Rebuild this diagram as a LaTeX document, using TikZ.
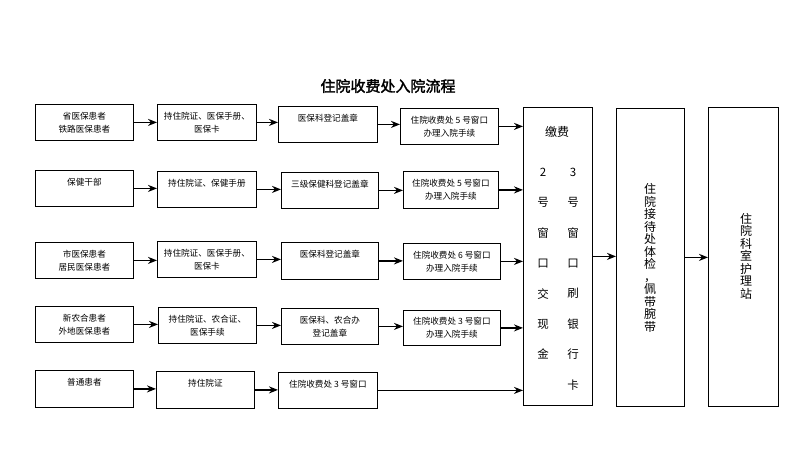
\documentclass[tikz,border=0pt]{standalone}
\usepackage{fontspec}
\setmainfont{Noto Sans CJK SC}[AutoFakeBold=2]
\usetikzlibrary{arrows.meta}
\begin{document}
\begin{tikzpicture}[x=1pt,y=-1pt,
  box/.style={draw, line width=0.8pt, inner sep=0pt, anchor=north west, align=center,
    font=\fontsize{8.6}{13.3}\selectfont},
  bigbox/.style={draw, line width=0.8pt, inner sep=0pt, anchor=north west},
  arr/.style={-{Stealth[length=9pt,width=7pt]}, line width=1.5pt},
  bigch/.style={inner sep=0pt, font=\fontsize{11.5}{12}\selectfont},
  vtext/.style={inner sep=0pt, align=center, font=\fontsize{12}{12.5}\selectfont}]
\useasboundingbox (0,0) rectangle (791,458);
\node[inner sep=0pt, font=\fontsize{15}{16}\selectfont\bfseries] (title) at (388,86) {住院收费处入院流程};
% row 1
\node[box, minimum width=98pt, minimum height=36pt] (r1a) at (35,104) {省医保患者\\铁路医保患者};
\node[box, minimum width=99pt, minimum height=36pt] (r1b) at (157,104) {持住院证、医保手册、\\医保卡};
\node[box, minimum width=99pt, minimum height=36pt] (r1c) at (278,106) {医保科登记盖章\\\phantom{保}};
\node[box, minimum width=98pt, minimum height=36pt] (r1d) at (400,108) {住院收费处 5 号窗口\\办理入院手续};
% row 2
\node[box, minimum width=98pt, minimum height=36pt] (r2a) at (35,170) {保健干部\\\phantom{保}};
\node[box, minimum width=99pt, minimum height=36pt] (r2b) at (157,171) {持住院证、保健手册\\\phantom{保}};
\node[box, minimum width=97pt, minimum height=36pt] (r2c) at (281,172) {三级保健科登记盖章\\\phantom{保}};
\node[box, minimum width=95pt, minimum height=37pt] (r2d) at (403,171) {住院收费处 5 号窗口\\办理入院手续};
% row 3
\node[box, minimum width=98pt, minimum height=36pt] (r3a) at (35,242) {市医保患者\\居民医保患者};
\node[box, minimum width=99pt, minimum height=36pt] (r3b) at (157,241) {持住院证、医保手册、\\医保卡};
\node[box, minimum width=97pt, minimum height=37pt] (r3c) at (281,242) {医保科登记盖章\\\phantom{保}};
\node[box, minimum width=97pt, minimum height=36pt] (r3d) at (403,243) {住院收费处 6 号窗口\\办理入院手续};
% row 4
\node[box, minimum width=98pt, minimum height=36pt] (r4a) at (35,306) {新农合患者\\外地医保患者};
\node[box, minimum width=98pt, minimum height=36pt] (r4b) at (158,307) {持住院证、农合证、\\医保手续};
\node[box, minimum width=97pt, minimum height=36pt] (r4c) at (281,308) {医保科、农合办\\登记盖章};
\node[box, minimum width=97pt, minimum height=35pt] (r4d) at (403,310) {住院收费处 3 号窗口\\办理入院手续};
% row 5
\node[box, minimum width=98pt, minimum height=37pt] (r5a) at (35,370) {普通患者\\\phantom{保}};
\node[box, minimum width=98pt, minimum height=37pt] (r5b) at (156,371) {持住院证\\\phantom{保}};
\node[box, minimum width=99pt, minimum height=36pt] (r5c) at (278,372) {住院收费处 3 号窗口\\\phantom{保}};
% big boxes
\node[bigbox, minimum width=69pt, minimum height=298pt] (pay) at (523,107) {};
\node[bigbox, minimum width=68pt, minimum height=298pt] (recv) at (616,108) {};
\node[bigbox, minimum width=70pt, minimum height=299pt] (ward) at (708,107) {};
\node[inner sep=0pt, font=\fontsize{12}{12}\selectfont] (jf) at (557,132) {缴费};
\foreach \c [count=\i] in {2,号,窗,口,交,现,金}
  \node[bigch] (pl\i) at (543,{172+30.4*(\i-1)}) {\c};
\foreach \c [count=\i] in {3,号,窗,口,刷,银,行,卡}
  \node[bigch] (pr\i) at (573,{172+30.4*(\i-1)}) {\c};
\node[vtext] (recvt) at (650,258) {住\\院\\接\\待\\处\\体\\检\\，\\佩\\带\\腕\\带};
\node[vtext] (wardt) at (746,256) {住\\院\\科\\室\\护\\理\\站};
% arrows
\foreach \r in {1,2,3,4} {
  \draw[arr] (r\r a.east) -- (r\r a.east -| r\r b.west);
  \draw[arr] (r\r b.east) -- (r\r b.east -| r\r c.west);
  \draw[arr] (r\r c.east) -- (r\r c.east -| r\r d.west);
  \draw[arr] (r\r d.east) -- (r\r d.east -| pay.west);
}
\draw[arr] (r5a.east) -- (r5a.east -| r5b.west);
\draw[arr] (r5b.east) -- (r5b.east -| r5c.west);
\draw[arr] (r5c.east) -- (r5c.east -| pay.west);
\draw[arr] (pay.east) -- (pay.east -| recv.west);
\draw[arr] (recv.east) -- (recv.east -| ward.west);
\end{tikzpicture}
\end{document}
